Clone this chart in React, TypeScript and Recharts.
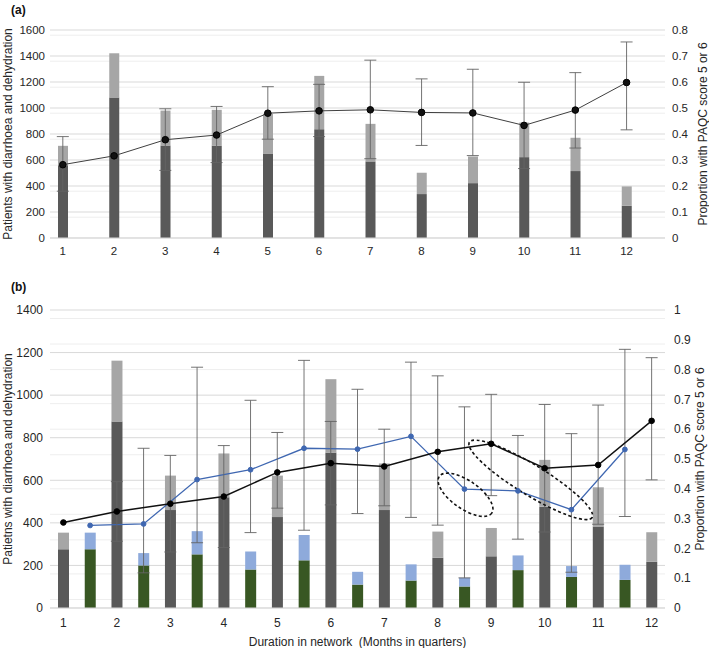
import React from 'react';
import {
  ComposedChart,
  Bar,
  Line,
  XAxis,
  YAxis,
  CartesianGrid,
  ErrorBar,
  ReferenceDot,
} from 'recharts';

// ---- panel (a) ----
const quartersA = ['1', '2', '3', '4', '5', '6', '7', '8', '9', '10', '11', '12'];
const aDark = [560, 1080, 712, 709, 650, 837, 589, 338, 422, 622, 515, 248];
const aTotal = [709, 1421, 980, 986, 955, 1247, 878, 502, 627, 888, 771, 397];
const aProp = [0.282, 0.316, 0.378, 0.396, 0.48, 0.489, 0.493, 0.483, 0.481, 0.433, 0.492, 0.598];
const aPropLow = [0.18, null, 0.26, 0.29, 0.38, 0.39, 0.305, 0.356, 0.317, 0.267, 0.346, 0.416];
const aPropHigh = [0.39, null, 0.497, 0.506, 0.582, 0.591, 0.684, 0.612, 0.649, 0.599, 0.636, 0.754];
const aLeftTicks = [0, 200, 400, 600, 800, 1000, 1200, 1400, 1600];
const aRightTicks = [0, 0.1, 0.2, 0.3, 0.4, 0.5, 0.6, 0.7, 0.8];

// ---- panel (b) ----
const quartersB = ['1', '2', '3', '4', '5', '6', '7', '8', '9', '10', '11', '12'];
const bDark = [276, 876, 460, 520, 427, 729, 460, 236, 243, 476, 383, 217];
const bTotal = [354, 1162, 622, 726, 622, 1075, 679, 359, 376, 696, 567, 356];
const bProp = [0.287, 0.324, 0.35, 0.374, 0.455, 0.486, 0.475, 0.524, 0.551, 0.469, 0.48, 0.628];
const bPropLow = [null, 0.224, 0.188, 0.203, 0.335, 0.346, 0.343, 0.278, 0.377, 0.255, 0.281, 0.43];
const bPropHigh = [null, 0.424, 0.512, 0.545, 0.589, 0.626, 0.6, 0.779, 0.717, 0.683, 0.681, 0.84];

// in-between slots (1.5 ... 11.5)
const halfB = ['1.5', '2.5', '3.5', '4.5', '5.5', '6.5', '7.5', '8.5', '9.5', '10.5', '11.5'];
const bGreen = [276, 200, 252, 181, 224, 110, 129, 101, 178, 146, 132];
const bBlueTotal = [354, 258, 361, 265, 343, 170, 205, 142, 247, 197, 203];
const bBlueProp = [0.277, 0.282, 0.431, 0.464, 0.536, 0.533, 0.576, 0.399, 0.393, 0.33, 0.532];
const bBlueLow = [null, 0.118, 0.219, 0.253, 0.261, 0.317, 0.304, 0.101, 0.231, 0.12, 0.307];
const bBlueHigh = [null, 0.536, 0.808, 0.697, 0.831, 0.734, 0.825, 0.675, 0.579, 0.585, 0.868];

const bLeftTicks = [0, 200, 400, 600, 800, 1000, 1200, 1400];
const bRightTicks = [0, 0.1, 0.2, 0.3, 0.4, 0.5, 0.6, 0.7, 0.8, 0.9, 1];

// dotted ellipse annotations (centre in quarter / proportion units)
const ringX = [8.52, 9.74];
const ringY = [0.38, 0.43];

const FONT = '"Liberation Sans", Arial, Helvetica, sans-serif';
const TXT = '#262626';
const AXIS = '#d9d9d9';
const WHISKER = '#646464';

const err = (v: number, lo: number | null, hi: number | null) =>
  lo == null || hi == null ? null : [v - lo, hi - v];

const dataA = quartersA.flatMap((q, i) => [
  {
    cat: q,
    dark: aDark[i],
    light: aTotal[i] - aDark[i],
    prop: aProp[i],
    propErr: err(aProp[i], aPropLow[i], aPropHigh[i]),
  },
  { cat: q + '.5' },
]);

const dataB: any[] = [];
quartersB.forEach((q, i) => {
  dataB.push({
    cat: q,
    pos: Number(q),
    dark: bDark[i],
    light: bTotal[i] - bDark[i],
    prop: bProp[i],
    propErr: err(bProp[i], bPropLow[i], bPropHigh[i]),
  });
  if (i < halfB.length) {
    dataB.push({
      cat: halfB[i],
      pos: Number(halfB[i]),
      green: bGreen[i],
      blue: bBlueTotal[i] - bGreen[i],
      blueProp: bBlueProp[i],
      blueErr: err(bBlueProp[i], bBlueLow[i], bBlueHigh[i]),
    });
  }
});

const minor = (max: number) => {
  const out: number[] = [];
  for (let v = 40; v < max; v += 40) if (v % 200 !== 0) out.push(v);
  return out;
};

const edgesB: number[] = [];
for (let v = 0.75; v <= 12.26; v += 0.5) edgesB.push(Math.round(v * 100) / 100);

const ring = (rx: number, ry: number, angle: number) => (p: any) => (
  <ellipse
    cx={p.cx}
    cy={p.cy}
    rx={rx}
    ry={ry}
    transform={`rotate(${angle} ${p.cx} ${p.cy})`}
    fill="none"
    stroke="#111"
    strokeWidth={1.6}
    strokeDasharray="3 2.5"
  />
);

const tickStyle = (size: number) => ({ fontSize: size, fill: TXT, fontFamily: FONT });
const labelStyle = { textAnchor: 'middle' as const, fontSize: 12, fill: TXT, fontFamily: FONT };

const panelTag: React.CSSProperties = {
  position: 'absolute',
  fontFamily: FONT,
  fontWeight: 'bold',
  fontSize: 12,
  color: '#111',
};

export default function App() {
  return (
    <div
      style={{
        position: 'absolute',
        left: 0,
        top: 0,
        width: 709,
        height: 648,
        background: '#fff',
        fontFamily: FONT,
      }}
    >
      <div style={{ ...panelTag, left: 11, top: 3 }}>(a)</div>
      <div style={{ ...panelTag, left: 11, top: 280 }}>(b)</div>

      {/* (a) */}
      <div style={{ position: 'absolute', left: 0, top: 0 }}>
        <ComposedChart width={709} height={262} data={dataA} margin={{ top: 30, right: 0, bottom: 0, left: 0 }}>
          <CartesianGrid yAxisId="left" vertical={false} horizontalValues={minor(1600)} stroke="#eeeeee" />
          <CartesianGrid yAxisId="left" vertical={false} stroke={AXIS} />
          <XAxis
            dataKey="cat"
            ticks={quartersA}
            interval={0}
            height={24}
            axisLine={{ stroke: AXIS }}
            tickLine={false}
            tickSize={0}
            tickMargin={9}
            tick={tickStyle(11.5)}
          />
          <YAxis
            yAxisId="left"
            width={50}
            domain={[0, 1600]}
            ticks={aLeftTicks}
            axisLine={false}
            tickLine={false}
            tickSize={0}
            tickMargin={5}
            tick={tickStyle(11.5)}
            label={{
              value: 'Patients with diarrhoea and dehydration',
              angle: -90,
              position: 'insideLeft',
              offset: 8,
              style: labelStyle,
            }}
          />
          <YAxis
            yAxisId="right"
            orientation="right"
            width={44}
            domain={[0, 0.8]}
            ticks={aRightTicks}
            axisLine={false}
            tickLine={false}
            tickSize={0}
            tickMargin={7}
            tick={tickStyle(11.5)}
            label={{
              value: 'Proportion with PAQC score 5 or 6',
              angle: -90,
              position: 'insideRight',
              offset: 6,
              style: labelStyle,
            }}
          />
          <Bar yAxisId="left" dataKey="dark" stackId="a" fill="#595959" barSize={10} isAnimationActive={false} />
          <Bar yAxisId="left" dataKey="light" stackId="a" fill="#a6a6a6" barSize={10} isAnimationActive={false} />
          <Line
            yAxisId="right"
            dataKey="prop"
            connectNulls
            stroke="#404040"
            strokeWidth={1}
            dot={{ r: 3.3, fill: '#111', stroke: '#000', strokeWidth: 1 }}
            activeDot={false}
            isAnimationActive={false}
          >
            <ErrorBar dataKey="propErr" direction="y" width={6} stroke={WHISKER} strokeWidth={0.9} />
          </Line>
        </ComposedChart>
      </div>

      {/* (b) */}
      <div style={{ position: 'absolute', left: 0, top: 270 }}>
        <ComposedChart width={709} height={378} data={dataB} margin={{ top: 40, right: 0, bottom: 0, left: 0 }}>
          <CartesianGrid yAxisId="left" xAxisId="cat" vertical={false} horizontalValues={minor(1400)} stroke="#eeeeee" />
          <CartesianGrid yAxisId="left" xAxisId="cat" vertical={false} stroke={AXIS} />
          <XAxis
            xAxisId="num"
            dataKey="pos"
            type="number"
            domain={[0.75, 12.25]}
            allowDataOverflow
            ticks={edgesB}
            height={0}
            axisLine={false}
            tickLine={{ stroke: '#cfcfcf' }}
            tickSize={4}
            tickFormatter={() => ''}
          />
          <XAxis
            xAxisId="cat"
            dataKey="cat"
            ticks={quartersB}
            interval={0}
            height={40}
            axisLine={{ stroke: AXIS }}
            tickLine={false}
            tickSize={0}
            tickMargin={10}
            tick={tickStyle(12)}
            label={{
              value: 'Duration in network\u00A0 (Months in quarters)',
              position: 'insideBottom',
              offset: 2,
              style: labelStyle,
            }}
          />
          <YAxis
            yAxisId="left"
            width={50}
            domain={[0, 1400]}
            ticks={bLeftTicks}
            axisLine={false}
            tickLine={false}
            tickSize={0}
            tickMargin={7}
            tick={tickStyle(12)}
            label={{
              value: 'Patietns with diarrhoea and dehydration',
              angle: -90,
              position: 'insideLeft',
              offset: 8,
              style: labelStyle,
            }}
          />
          <YAxis
            yAxisId="right"
            orientation="right"
            width={44}
            domain={[0, 1]}
            ticks={bRightTicks}
            axisLine={false}
            tickLine={false}
            tickSize={0}
            tickMargin={9}
            tick={tickStyle(12)}
            label={{
              value: 'Proportion with PAQC score 5 or 6',
              angle: -90,
              position: 'insideRight',
              offset: 9,
              style: labelStyle,
            }}
          />
          <Bar xAxisId="cat" yAxisId="left" dataKey="dark" stackId="s" fill="#595959" barSize={11} isAnimationActive={false} />
          <Bar xAxisId="cat" yAxisId="left" dataKey="light" stackId="s" fill="#a6a6a6" barSize={11} isAnimationActive={false} />
          <Bar xAxisId="cat" yAxisId="left" dataKey="green" stackId="s" fill="#385723" barSize={11} isAnimationActive={false} />
          <Bar xAxisId="cat" yAxisId="left" dataKey="blue" stackId="s" fill="#8eaadb" barSize={11} isAnimationActive={false} />
          <Line
            xAxisId="cat"
            yAxisId="right"
            dataKey="blueProp"
            connectNulls
            stroke="#3f67b1"
            strokeWidth={1.3}
            dot={{ r: 2.4, fill: '#3f67b1', stroke: '#3f67b1', strokeWidth: 1 }}
            activeDot={false}
            isAnimationActive={false}
          >
            <ErrorBar dataKey="blueErr" direction="y" width={6} stroke={WHISKER} strokeWidth={0.9} />
          </Line>
          <Line
            xAxisId="cat"
            yAxisId="right"
            dataKey="prop"
            connectNulls
            stroke="#111"
            strokeWidth={1.5}
            dot={{ r: 2.8, fill: '#000', stroke: '#000', strokeWidth: 1 }}
            activeDot={false}
            isAnimationActive={false}
          >
            <ErrorBar dataKey="propErr" direction="y" width={6} stroke={WHISKER} strokeWidth={0.9} />
          </Line>
          <ReferenceDot
            xAxisId="num"
            yAxisId="right"
            x={ringX[0]}
            y={ringY[0]}
            ifOverflow="visible"
            shape={ring(32, 14, 35)}
          />
          <ReferenceDot
            xAxisId="num"
            yAxisId="right"
            x={ringX[1]}
            y={ringY[1]}
            ifOverflow="visible"
            shape={ring(72, 15, 31.5)}
          />
        </ComposedChart>
      </div>
    </div>
  );
}
